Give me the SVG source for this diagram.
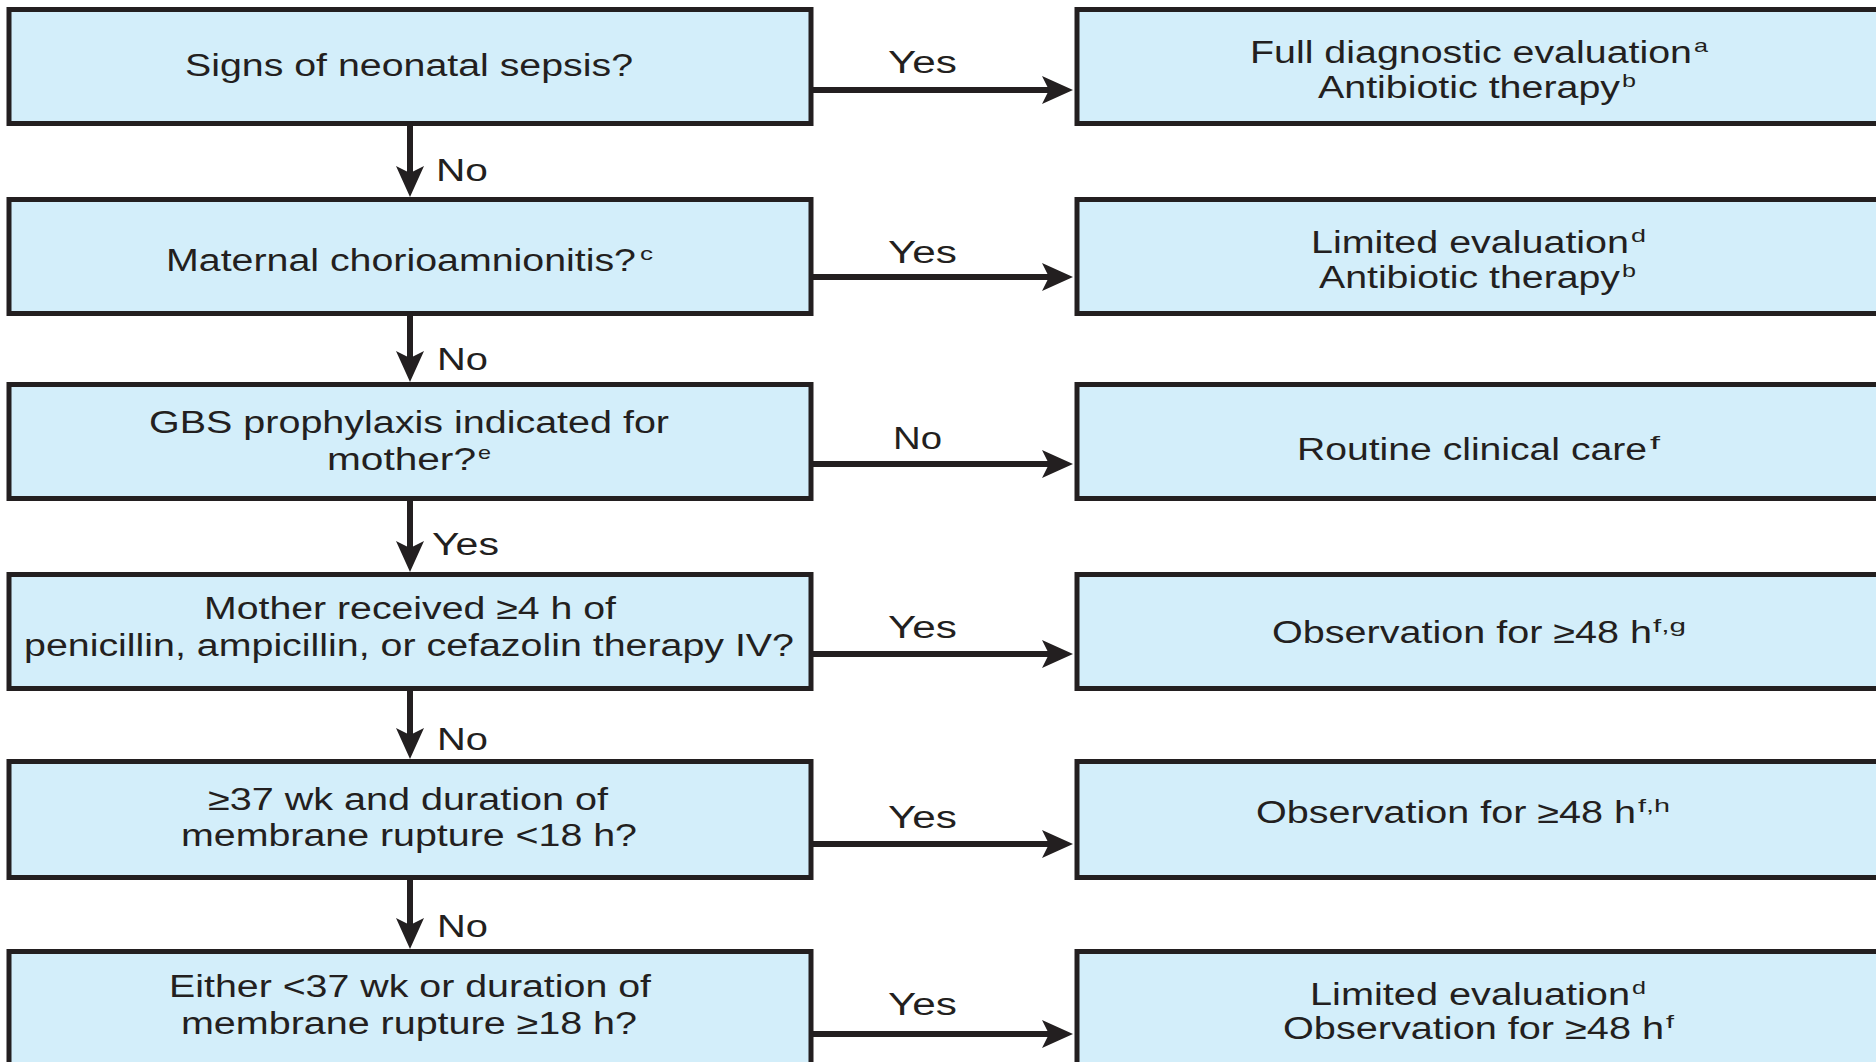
<svg xmlns="http://www.w3.org/2000/svg" width="1876" height="1062" viewBox="0 0 1876 1062">
<defs>
<style>
.box{fill:#D3EEFA;stroke:#231F20;stroke-width:5}
.t{font-family:"Liberation Sans",Arial,Helvetica,sans-serif;font-size:31px;fill:#231F20}
.sup{font-family:"Liberation Sans",Arial,Helvetica,sans-serif;font-size:19px;fill:#231F20}
.lbl{font-family:"Liberation Sans",Arial,Helvetica,sans-serif;font-size:31px;fill:#231F20}
.c{fill:none;stroke:#231F20;stroke-width:6;marker-end:url(#ah)}
</style>
<marker id="ah" markerUnits="userSpaceOnUse" viewBox="-32 -16 33 32" markerWidth="33" markerHeight="32" refX="-23" refY="0" orient="auto">
<path d="M0,0 L-31,-14 L-24,0 L-31,14 Z" fill="#231F20"/>
</marker>
</defs>
<rect width="1876" height="1062" fill="#FFFFFF"/>

<g id="connectors">
<line class="c" x1="410" y1="126" x2="410" y2="174"/>
<line class="c" x1="410" y1="316" x2="410" y2="359"/>
<line class="c" x1="410" y1="501" x2="410" y2="549"/>
<line class="c" x1="410" y1="691" x2="410" y2="736"/>
<line class="c" x1="410" y1="880" x2="410" y2="926"/>
<line class="c" x1="813" y1="90" x2="1050" y2="90"/>
<line class="c" x1="813" y1="277" x2="1050" y2="277"/>
<line class="c" x1="813" y1="464" x2="1050" y2="464"/>
<line class="c" x1="813" y1="654" x2="1050" y2="654"/>
<line class="c" x1="813" y1="844" x2="1050" y2="844"/>
<line class="c" x1="813" y1="1034" x2="1050" y2="1034"/>
<text class="lbl" x="436" y="181" textLength="52" lengthAdjust="spacingAndGlyphs">No</text>
<text class="lbl" x="437" y="370" textLength="51" lengthAdjust="spacingAndGlyphs">No</text>
<text class="lbl" x="432" y="555" textLength="67" lengthAdjust="spacingAndGlyphs">Yes</text>
<text class="lbl" x="437" y="750" textLength="51" lengthAdjust="spacingAndGlyphs">No</text>
<text class="lbl" x="437" y="937" textLength="51" lengthAdjust="spacingAndGlyphs">No</text>
<text class="lbl" x="888" y="73" textLength="69" lengthAdjust="spacingAndGlyphs">Yes</text>
<text class="lbl" x="888" y="263" textLength="69" lengthAdjust="spacingAndGlyphs">Yes</text>
<text class="lbl" x="893" y="449" textLength="49" lengthAdjust="spacingAndGlyphs">No</text>
<text class="lbl" x="888" y="638" textLength="69" lengthAdjust="spacingAndGlyphs">Yes</text>
<text class="lbl" x="888" y="828" textLength="69" lengthAdjust="spacingAndGlyphs">Yes</text>
<text class="lbl" x="888" y="1015" textLength="69" lengthAdjust="spacingAndGlyphs">Yes</text>
</g>

<g id="q1">
<rect class="box" x="9" y="9.5" width="802" height="114"/>
<text class="t" x="185" y="76" textLength="448" lengthAdjust="spacingAndGlyphs">Signs of neonatal sepsis?</text>
</g>
<g id="q2">
<rect class="box" x="9" y="199.5" width="802" height="114"/>
<text class="t" x="166" y="271" textLength="470" lengthAdjust="spacingAndGlyphs">Maternal chorioamnionitis?</text>
<text class="sup" x="640" y="260" textLength="13" lengthAdjust="spacingAndGlyphs">c</text>
</g>
<g id="q3">
<rect class="box" x="9" y="384.5" width="802" height="114"/>
<text class="t" x="149" y="433" textLength="520" lengthAdjust="spacingAndGlyphs">GBS prophylaxis indicated for</text>
<text class="t" x="327" y="470" textLength="149" lengthAdjust="spacingAndGlyphs">mother?</text>
<text class="sup" x="478" y="459" textLength="13" lengthAdjust="spacingAndGlyphs">e</text>
</g>
<g id="q4">
<rect class="box" x="9" y="574.5" width="802" height="114"/>
<text class="t" x="204" y="619" textLength="412" lengthAdjust="spacingAndGlyphs">Mother received ≥4 h of</text>
<text class="t" x="24" y="656" textLength="770" lengthAdjust="spacingAndGlyphs">penicillin, ampicillin, or cefazolin therapy IV?</text>
</g>
<g id="q5">
<rect class="box" x="9" y="761.5" width="802" height="116"/>
<text class="t" x="208" y="810" textLength="400" lengthAdjust="spacingAndGlyphs">≥37 wk and duration of</text>
<text class="t" x="181" y="846" textLength="456" lengthAdjust="spacingAndGlyphs">membrane rupture &lt;18 h?</text>
</g>
<g id="q6">
<rect class="box" x="9" y="951.5" width="802" height="116"/>
<text class="t" x="169" y="997" textLength="482" lengthAdjust="spacingAndGlyphs">Either &lt;37 wk or duration of</text>
<text class="t" x="181" y="1034" textLength="456" lengthAdjust="spacingAndGlyphs">membrane rupture ≥18 h?</text>
</g>

<g id="a1">
<rect class="box" x="1077" y="9.5" width="804" height="114"/>
<text class="t" x="1250" y="63" textLength="442" lengthAdjust="spacingAndGlyphs">Full diagnostic evaluation</text>
<text class="sup" x="1694" y="52" textLength="14" lengthAdjust="spacingAndGlyphs">a</text>
<text class="t" x="1318" y="98" textLength="302" lengthAdjust="spacingAndGlyphs">Antibiotic therapy</text>
<text class="sup" x="1622" y="87" textLength="14" lengthAdjust="spacingAndGlyphs">b</text>
</g>
<g id="a2">
<rect class="box" x="1077" y="199.5" width="804" height="114"/>
<text class="t" x="1311" y="253" textLength="318" lengthAdjust="spacingAndGlyphs">Limited evaluation</text>
<text class="sup" x="1631" y="242" textLength="15" lengthAdjust="spacingAndGlyphs">d</text>
<text class="t" x="1319" y="288" textLength="301" lengthAdjust="spacingAndGlyphs">Antibiotic therapy</text>
<text class="sup" x="1622" y="277" textLength="14" lengthAdjust="spacingAndGlyphs">b</text>
</g>
<g id="a3">
<rect class="box" x="1077" y="384.5" width="804" height="114"/>
<text class="t" x="1297" y="460" textLength="350" lengthAdjust="spacingAndGlyphs">Routine clinical care</text>
<text class="sup" x="1650" y="449" textLength="10" lengthAdjust="spacingAndGlyphs">f</text>
</g>
<g id="a4">
<rect class="box" x="1077" y="574.5" width="804" height="114"/>
<text class="t" x="1272" y="643" textLength="380" lengthAdjust="spacingAndGlyphs">Observation for ≥48 h</text>
<text class="sup" x="1653" y="632" textLength="33" lengthAdjust="spacingAndGlyphs">f,g</text>
</g>
<g id="a5">
<rect class="box" x="1077" y="761.5" width="804" height="116"/>
<text class="t" x="1256" y="823" textLength="380" lengthAdjust="spacingAndGlyphs">Observation for ≥48 h</text>
<text class="sup" x="1638" y="812" textLength="32" lengthAdjust="spacingAndGlyphs">f,h</text>
</g>
<g id="a6">
<rect class="box" x="1077" y="951.5" width="804" height="116"/>
<text class="t" x="1310" y="1005" textLength="320" lengthAdjust="spacingAndGlyphs">Limited evaluation</text>
<text class="sup" x="1632" y="994" textLength="14" lengthAdjust="spacingAndGlyphs">d</text>
<text class="t" x="1283" y="1039" textLength="381" lengthAdjust="spacingAndGlyphs">Observation for ≥48 h</text>
<text class="sup" x="1666" y="1028" textLength="8" lengthAdjust="spacingAndGlyphs">f</text>
</g>
</svg>
